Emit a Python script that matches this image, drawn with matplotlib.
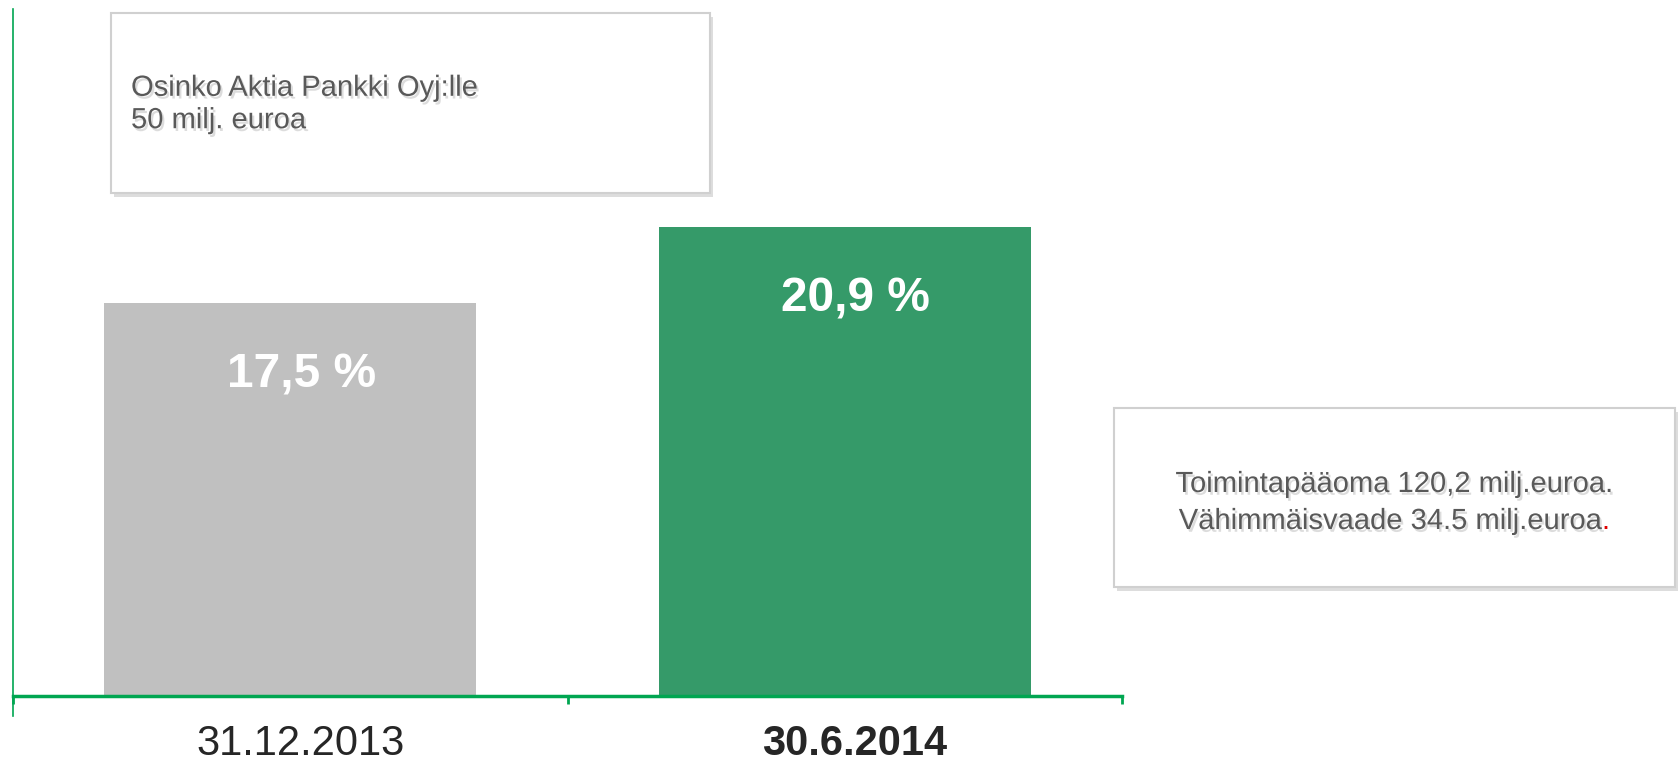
import matplotlib.pyplot as plt
import matplotlib.patheffects as pe
import matplotlib.transforms as mtrans
from matplotlib.patches import Rectangle
from matplotlib.text import Annotation

# data
categories = ['31.12.2013', '30.6.2014']
values = [17.5, 20.9]
value_labels = ['17,5 %', '20,9 %']
bar_colors = ['#C0C0C0', '#359A69']
note_left = 'Osinko Aktia Pankki Oyj:lle\n50 milj. euroa'
note_right = ['Toimintapääoma 120,2 milj.euroa.', 'Vähimmäisvaade 34.5 milj.euroa']

W, H = 1680, 765
plt.rcParams['font.family'] = ['Liberation Sans', 'DejaVu Sans']
fig = plt.figure(figsize=(W / 100, H / 100), dpi=100)

# axes placed in pixel terms
ax = fig.add_axes([13 / W, 49 / H, (1122 - 13) / W, (756 - 49) / H])
x = range(len(categories))
bars = ax.bar(x, values, width=0.67, color=bar_colors, zorder=2)
ax.set_xlim(-0.5, 1.5)
ax.set_ylim(-0.9, 30.6)

axis_green = '#00A651'
for s in ['top', 'right']:
    ax.spines[s].set_visible(False)
ax.spines['bottom'].set_position(('data', 0))
ax.spines['bottom'].set_color(axis_green)
ax.spines['bottom'].set_linewidth(2.5)
ax.spines['left'].set_color(axis_green)
ax.spines['left'].set_linewidth(1.2)
ax.set_yticks([])

ax.set_xticks(list(x))
ax.set_xticklabels(categories, fontsize=30, color='#262626')
ax.get_xticklabels()[1].set_fontweight('bold')
ax.tick_params(axis='x', which='major', length=0, pad=20)
shift = mtrans.ScaledTranslation(0.10, 0, fig.dpi_scale_trans)
for lbl in ax.get_xticklabels():
    lbl.set_transform(lbl.get_transform() + shift)
ax.set_xticks([-0.5, 0.5, 1.5], minor=True)
ax.tick_params(axis='x', which='minor', length=6, width=2, color=axis_green, direction='out')

for b, lab in zip(bars, value_labels):
    ax.annotate(lab, (b.get_x() + b.get_width() / 2, b.get_height()),
                xytext=(8, -52), textcoords='offset points',
                ha='center', va='center', fontsize=34.5, fontweight='bold', color='white')


def note_box(x0, y0, x1, y1):
    # light frame with a soft shadow, pixel coords from the top-left
    shadow = Rectangle(((x0 + 3) / W, 1 - (y1 + 4) / H), (x1 - x0) / W, (y1 - y0) / H,
                       transform=fig.transFigure, facecolor='#DDDDDD', edgecolor='none', zorder=1)
    box = Rectangle((x0 / W, 1 - y1 / H), (x1 - x0) / W, (y1 - y0) / H,
                    transform=fig.transFigure, facecolor='white', edgecolor='#D0D0D0',
                    linewidth=1.5, zorder=2)
    fig.patches.extend([shadow, box])


shadow_fx = [pe.withSimplePatchShadow(offset=(1.5, -2), shadow_rgbFace='#BBBBBB', alpha=0.5)]

note_box(111, 13, 710, 193)
fig.text(131 / W, 1 - 104 / H, note_left, fontsize=21, color='#595959', ha='left', va='center',
         linespacing=1.2, path_effects=shadow_fx, zorder=3)

note_box(1114, 408, 1675, 587)
fig.text(1394 / W, 1 - 484 / H, note_right[0], fontsize=21, color='#595959', ha='center',
         va='center', path_effects=shadow_fx, zorder=3)
t2 = fig.text(1390 / W, 1 - 521 / H, note_right[1], fontsize=21, color='#595959', ha='center',
              va='center', path_effects=shadow_fx, zorder=3)
dot = Annotation('.', xy=(1, 0.5), xycoords=t2, ha='left', va='center', fontsize=21,
                 color='#E00000', zorder=4)
fig.add_artist(dot)

fig.savefig('out.png', dpi=100)
